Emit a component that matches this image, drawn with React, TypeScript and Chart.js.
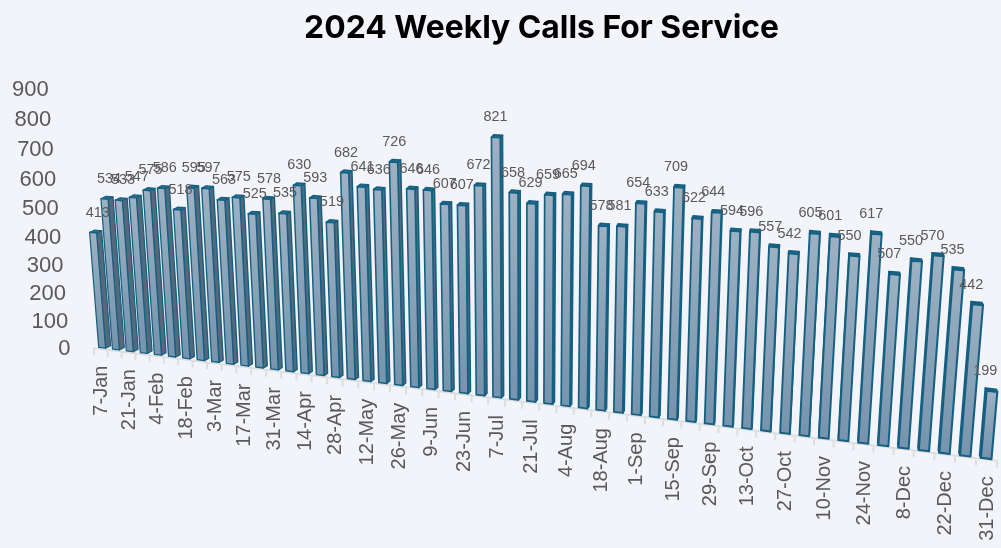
import React, { useEffect, useRef } from "react";
import { Chart, registerables, BarElement, CategoryScale, LinearScale } from "chart.js";

const weeks = ["7-Jan","14-Jan","21-Jan","28-Jan","4-Feb","11-Feb","18-Feb","25-Feb","3-Mar","10-Mar","17-Mar","24-Mar","31-Mar","7-Apr","14-Apr","21-Apr","28-Apr","5-May","12-May","19-May","26-May","2-Jun","9-Jun","16-Jun","23-Jun","30-Jun","7-Jul","14-Jul","21-Jul","28-Jul","4-Aug","11-Aug","18-Aug","25-Aug","1-Sep","8-Sep","15-Sep","22-Sep","29-Sep","6-Oct","13-Oct","20-Oct","27-Oct","3-Nov","10-Nov","17-Nov","24-Nov","1-Dec","8-Dec","15-Dec","22-Dec","29-Dec","31-Dec"];
const calls = [413,534,533,547,575,586,518,595,597,563,575,525,578,535,630,593,519,682,641,636,726,646,646,607,607,672,821,658,629,659,665,694,578,581,654,633,709,622,644,594,596,557,542,605,601,550,617,507,550,570,535,442,199];
const title = "2024 Weekly Calls For Service";

const AREA = { left: 93, right: 990, top: 89, bottom: 348 };
const N = weeks.length;
const VP_X = 524;
const DEPTH_VP_X = 820;

const tOf = (px: number) => ((px - AREA.left) / (AREA.right - AREA.left)) * N;
const vOf = (py: number) => ((AREA.bottom - py) / (AREA.bottom - AREA.top)) * 900;
const floorX = (t: number) => (13.36 * t + 94) / (1 - 0.00369 * t);
const floorY = (X: number) => 348 + 0.125 * (X - 93);

function project(t: number, v: number, depth = 0) {
  const X0 = floorX(t);
  const Y0 = floorY(X0);
  const h = ((0.27 * v) / (1 - 0.0000689 * v)) / (1 - 0.0036 * t);
  return {
    x: X0 + (X0 - VP_X) * 0.000185 * h + (DEPTH_VP_X - X0) * 0.0035 * (depth - 0.5),
    y: Y0 - h - 1.2 * depth,
  };
}

class Bar3DElement extends BarElement {
  static id = "bar3d";
  static defaults = BarElement.defaults;
  draw(ctx: CanvasRenderingContext2D) {
    const { x, y, base, width } = this as any;
    const tl = tOf(x - width / 2), tr = tOf(x + width / 2);
    const v = vOf(y), b = vOf(base);
    const front = 1, back = 3;
    const P = (t: number, val: number, d: number) => project(t, val, d);
    const poly = (pts: { x: number; y: number }[], fill: string | CanvasGradient) => {
      ctx.beginPath();
      pts.forEach((p, i) => (i ? ctx.lineTo(p.x, p.y) : ctx.moveTo(p.x, p.y)));
      ctx.closePath();
      ctx.fillStyle = fill;
      ctx.fill();
      ctx.stroke();
    };
    ctx.save();
    ctx.lineJoin = "round";
    ctx.lineWidth = 1.2 + (0.9 * (tl + tr)) / 2 / N;
    ctx.strokeStyle = "#156082";
    const onLeft = floorX((tl + tr) / 2) < DEPTH_VP_X;
    const ts = onLeft ? tr : tl;
    poly([P(ts, b, front), P(ts, v, front), P(ts, v, back), P(ts, b, back)], "#56697a");
    poly([P(tl, v, front), P(tr, v, front), P(tr, v, back), P(tl, v, back)], "#2b6f90");
    const ft = P(tl, v, front), fb = P(tl, b, front);
    const g = ctx.createLinearGradient(0, ft.y, 0, fb.y);
    g.addColorStop(0, "#9db1c3");
    g.addColorStop(1, "#7694ad");
    poly([P(tl, b, front), P(tl, v, front), P(tr, v, front), P(tr, b, front)], g);
    ctx.restore();
  }
}

class SlantCategoryScale extends CategoryScale {
  static id = "slantCategory";
  static defaults = CategoryScale.defaults;
  drawGrid() {
    const ctx = this.ctx;
    ctx.save();
    ctx.strokeStyle = "#dcdddf";
    ctx.lineWidth = 2;
    ctx.beginPath();
    for (let i = 0; i <= N; i++) {
      const X = floorX(i);
      const Y = floorY(X);
      ctx.moveTo(X, Y - 1);
      ctx.lineTo(X, Y + 7);
    }
    const a = floorX(0), z = floorX(N);
    ctx.moveTo(a - 1, floorY(a));
    ctx.lineTo(z + 1, floorY(z));
    ctx.stroke();
    ctx.restore();
  }
  _computeLabelItems(area: any) {
    const items = (CategoryScale.prototype as any)._computeLabelItems.call(this, area);
    items.forEach((it: any) => {
      const idx = (this as any).ticks.findIndex((t: any) => t.label === it.label);
      const X = floorX(idx + 0.5) + 1;
      it.textOffset = 0;
      it.options.rotation = -Math.PI / 2;
      it.options.textAlign = "right";
      it.options.textBaseline = "middle";
      it.options.translation = [X, floorY(X) + 16.5];
    });
    return items;
  }
}

class SlantLinearScale extends LinearScale {
  static id = "slantLinear";
  static defaults = LinearScale.defaults;
  _computeLabelItems(area: any) {
    const items = (LinearScale.prototype as any)._computeLabelItems.call(this, area);
    items.forEach((it: any) => {
      const v = Number(it.label);
      const h = (0.27 * v) / (1 - 0.0000689 * v);
      const X = 70.5 + (70.5 - VP_X) * 0.000185 * h;
      it.textOffset = 0;
      it.options.textAlign = "right";
      it.options.textBaseline = "middle";
      it.options.translation = [X, 349 - h];
    });
    return items;
  }
}

const areaSync = {
  id: "areaSync",
  beforeDatasetsDraw(chart: any) {
    const a = chart.chartArea;
    AREA.left = a.left; AREA.right = a.right; AREA.top = a.top; AREA.bottom = a.bottom;
  },
};

const valueLabels = {
  id: "valueLabels",
  afterDatasetsDraw(chart: any) {
    const { ctx } = chart;
    const meta = chart.getDatasetMeta(0);
    ctx.save();
    ctx.font = '14.4px "Liberation Sans"';
    ctx.fillStyle = "#595959";
    ctx.textAlign = "center";
    ctx.textBaseline = "middle";
    meta.data.forEach((el: any, i: number) => {
      const p = project(tOf(el.x), vOf(el.y), 2);
      const lx = Math.min(p.x + 2 - (p.x - 100) * 0.009, 990);
      ctx.fillText(String(calls[i]), lx, p.y - 19);
    });
    ctx.restore();
  },
};

Chart.register(...registerables, Bar3DElement, SlantCategoryScale, SlantLinearScale);
(Chart.defaults as any).datasets.bar.dataElementType = "bar3d";

export default function App() {
  const ref = useRef<HTMLCanvasElement | null>(null);
  useEffect(() => {
    document.body.style.margin = "0";
    document.body.style.background = "#f2f4f9";
    const chart = new Chart(ref.current!, {
      type: "bar",
      data: {
        labels: weeks,
        datasets: [{ data: calls, barPercentage: 0.5, categoryPercentage: 1, clip: false as any, backgroundColor: "#9bb0c1" }],
      },
      plugins: [areaSync, valueLabels],
      options: {
        animation: false,
        responsive: false,
        layout: { padding: { left: 0, right: 3, top: 0, bottom: 0 } },
        plugins: {
          legend: { display: false },
          tooltip: { enabled: false },
          title: {
            display: true,
            text: title,
            fullSize: false,
            color: "#000000",
            font: { family: "Inter", size: 31.85, weight: "bold" },
            padding: { top: 9, bottom: 41.8 },
          } as any,
        },
        scales: {
          x: {
            type: "slantCategory" as any,
            afterFit: (s: any) => { s.height = 200; },
            border: { display: false },
            ticks: {
              autoSkip: false,
              minRotation: 90,
              maxRotation: 90,
              color: "#595959",
              font: { family: "Liberation Sans", size: 20 },
              callback(this: any, v: any, i: number) { return i % 2 === 0 ? weeks[i] : ""; },
            },
          },
          y: {
            type: "slantLinear" as any,
            min: 0,
            max: 900,
            afterFit: (s: any) => { s.width = 101; },
            border: { display: false },
            grid: { display: false },
            ticks: {
              stepSize: 100,
              autoSkip: false,
              color: "#595959",
              font: { family: "Liberation Sans", size: 22 },
            },
          },
        },
      },
    });
    return () => chart.destroy();
  }, []);
  return <canvas ref={ref} width={1001} height={548} style={{ display: "block" }} />;
}
